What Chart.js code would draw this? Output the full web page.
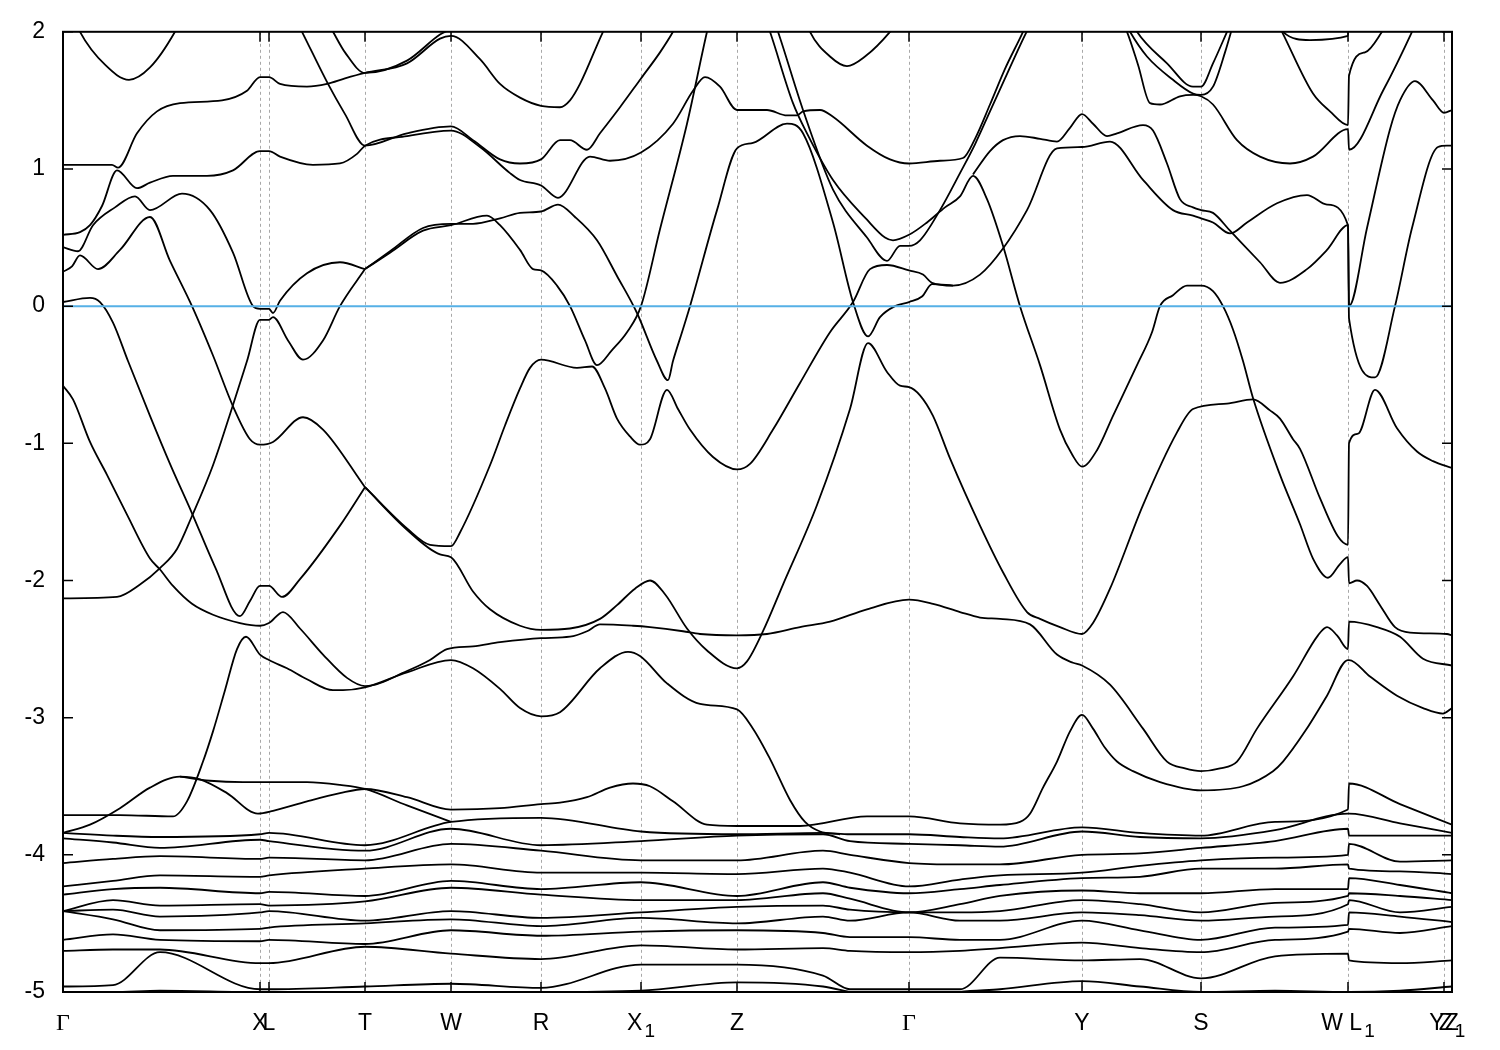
<!DOCTYPE html>
<html>
<head>
<meta charset="utf-8">
<title>Band structure</title>
<script src="https://cdn.jsdelivr.net/npm/chart.js@4.4.0/dist/chart.umd.min.js"></script>
<style>
  html, body { margin: 0; padding: 0; background: #fff; }
</style>
</head>
<body>
<canvas id="bands" width="1500" height="1050"></canvas>
<script>
// k-path: positions of the high-symmetry points (path distance, arbitrary units)
const kPoints = [0, 197, 206, 302, 388, 478, 578, 674, 846, 1019, 1138, 1285, 1381, 1389];
// "_1" marks a subscript
const kLabels = ['Γ', 'X', 'L', 'T', 'W', 'R', 'X_1', 'Z', 'Γ', 'Y', 'S', 'W L_1', 'YZ', 'Z_1'];
const yTicks = [2, 1, 0, -1, -2, -3, -4, -5];
const fermi = 0;

// bands above -3.5 eV, each as [k, E] pairs
const b01 = [[0,2.3],[17,2.0],[42,1.76],[66,1.65],[87,1.74],[112,2.0],[122,2.15]];
const b02 = [[0,1.03],[49,1.03],[55,1.01],[74,1.26],[94,1.42],[117,1.48],[159,1.50],[184,1.57],[197,1.67],[206,1.67],[217,1.62],[244,1.60],[264,1.62],[282,1.66],[302,1.70],[344,1.77],[377,1.95],[388,1.97],[417,1.80],[437,1.62],[457,1.52],[478,1.46],[497,1.45],[507,1.50],[517,1.62],[540,2.0],[547,2.1]];
const b03 = [[232,2.1],[239,2.0],[265,1.62],[282,1.40],[302,1.17],[344,1.26],[388,1.31],[410,1.21],[437,1.07],[457,1.04],[478,1.07],[497,1.21],[507,1.21],[524,1.14],[537,1.26],[557,1.45],[578,1.66],[597,1.85],[610,2.0],[617,2.1]];
const b04 = [[262,2.1],[270,2.0],[282,1.85],[302,1.70],[344,1.79],[377,1.98],[388,2.02],[407,2.1]];
const b05 = [[0,0.52],[17,0.54],[27,0.59],[39,0.73],[54,0.99],[74,0.86],[87,0.90],[110,0.95],[144,0.95],[170,0.99],[197,1.13],[206,1.13],[217,1.09],[250,1.03],[277,1.04],[294,1.11],[302,1.17],[344,1.24],[388,1.28],[417,1.16],[447,0.97],[457,0.92],[478,0.88],[495,0.79],[527,1.09],[547,1.06],[578,1.12],[610,1.33],[630,1.57],[642,1.67],[657,1.60],[674,1.43],[704,1.43],[724,1.39],[734,1.39],[740,1.42],[757,1.43],[770,1.38],[804,1.17],[827,1.07],[846,1.04],[877,1.06],[900,1.08],[912,1.22],[927,1.47],[942,1.73],[960,2.0],[966,2.1]];
const b06 = [[697,2.2],[707,2.0],[730,1.48],[744,1.26],[770,0.92],[804,0.63],[822,0.50],[830,0.48],[846,0.52],[864,0.61],[882,0.72],[897,0.80],[910,0.95],[924,0.78],[940,0.44],[957,0.0],[977,-0.43],[997,-0.90],[1009,-1.08],[1019,-1.17],[1034,-1.05],[1050,-0.80],[1074,-0.43],[1089,-0.19],[1097,0.0],[1110,0.08],[1124,0.15],[1138,0.15],[1150,0.11],[1160,0.0],[1170,-0.17],[1180,-0.40],[1190,-0.67],[1217,-1.23],[1237,-1.59],[1250,-1.84],[1265,-1.98],[1277,-1.88],[1285,-1.83],[1286,-2.02],[1294,-2.0],[1304,-2.04],[1317,-2.18],[1332,-2.34],[1347,-2.38],[1384,-2.39],[1389,-2.40]];
const b07 = [[705,2.2],[715,2.0],[740,1.43],[770,0.85],[804,0.50],[824,0.33],[837,0.44],[846,0.44],[857,0.48],[877,0.70],[897,0.97],[912,1.18],[927,1.42],[942,1.66],[957,1.90],[967,2.05],[972,2.12]];
const b08 = [[302,-1.32],[344,-1.63],[377,-1.81],[388,-1.83],[410,-2.08],[427,-2.21],[457,-2.33],[478,-2.36],[507,-2.35],[537,-2.28],[554,-2.18],[572,-2.06],[587,-2.0],[602,-2.1],[624,-2.35],[644,-2.51],[674,-2.64],[684,-2.59],[700,-2.37],[720,-2.03],[754,-1.45],[787,-0.75],[805,-0.27],[824,-0.48],[837,-0.58],[846,-0.59],[857,-0.65],[870,-0.80],[887,-1.11],[917,-1.60],[940,-1.94],[964,-2.23],[977,-2.28],[997,-2.34],[1019,-2.39],[1030,-2.31],[1047,-2.06],[1080,-1.45],[1114,-0.92],[1130,-0.75],[1164,-0.71],[1190,-0.68],[1207,-0.76],[1217,-0.82],[1230,-0.97],[1237,-1.04],[1257,-1.40],[1275,-1.68],[1285,-1.74],[1286,-1.0],[1295,-0.93],[1312,-0.61],[1334,-0.89],[1354,-1.06],[1370,-1.13],[1389,-1.18]];
const b10 = [[302,-1.32],[344,-1.62],[367,-1.74],[388,-1.75],[397,-1.65],[427,-1.16],[442,-0.87],[457,-0.60],[467,-0.45],[478,-0.39],[514,-0.45],[529,-0.44],[542,-0.60],[554,-0.82],[567,-0.95],[577,-1.01],[587,-0.97],[604,-0.61],[615,-0.75],[627,-0.90],[650,-1.10],[674,-1.19],[687,-1.15],[710,-0.90],[737,-0.56],[767,-0.19],[790,0.03],[807,0.27],[824,0.30],[846,0.26],[860,0.23],[869,0.17],[890,0.15],[917,0.23],[940,0.42],[964,0.70],[994,1.15],[1019,1.16],[1047,1.20],[1080,0.92],[1110,0.70],[1130,0.66],[1138,0.64],[1150,0.61],[1167,0.53],[1184,0.61],[1214,0.75],[1244,0.81],[1264,0.74],[1285,0.59],[1286,0.0],[1304,0.57],[1327,1.29],[1337,1.50],[1352,1.64],[1370,1.50],[1381,1.41],[1389,1.43]];
const b12 = [[302,0.27],[327,0.39],[360,0.55],[388,0.59],[424,0.66],[437,0.59],[457,0.41],[470,0.27],[478,0.26],[494,0.15],[507,0.0],[522,-0.25],[534,-0.43],[549,-0.32],[564,-0.19],[578,0.0],[597,0.56],[624,1.33],[644,2.0],[649,2.15]];
const b13 = [[302,0.27],[327,0.40],[360,0.57],[388,0.60],[410,0.60],[437,0.64],[457,0.68],[478,0.69],[495,0.74],[512,0.65],[534,0.48],[554,0.22],[574,-0.05],[594,-0.40],[605,-0.54],[610,-0.40],[619,-0.19],[627,0.0],[654,0.70],[674,1.15],[690,1.19],[724,1.33],[740,1.26],[770,0.61],[790,0.03],[805,-0.22],[817,-0.08],[832,0.0],[846,0.03],[859,0.07],[869,0.16],[890,0.15]];
const b14 = [[0,0.43],[15,0.40],[30,0.59],[52,0.72],[72,0.80],[87,0.70],[119,0.82],[147,0.70],[170,0.39],[190,0.0],[197,-0.02],[206,-0.02],[210,-0.05],[217,0.04],[244,0.24],[277,0.32],[302,0.27]];
const b15 = [[0,0.25],[9,0.29],[17,0.37],[35,0.27],[57,0.41],[87,0.65],[107,0.33],[129,0.0],[150,-0.36],[170,-0.73],[187,-0.97],[197,-1.01],[210,-0.99],[240,-0.81],[260,-0.90],[302,-1.32]];
const b16 = [[0,0.03],[27,0.06],[37,0.03],[50,-0.12],[65,-0.40],[87,-0.80],[107,-1.15],[129,-1.51],[152,-1.90],[177,-2.26],[187,-2.15],[197,-2.04],[206,-2.04],[219,-2.12],[237,-1.99],[277,-1.60],[302,-1.32]];
const b17 = [[0,-2.13],[54,-2.12],[77,-2.03],[97,-1.91],[114,-1.77],[129,-1.53],[150,-1.16],[170,-0.72],[184,-0.40],[197,-0.10],[206,-0.10],[210,-0.08],[225,-0.25],[240,-0.39],[260,-0.25],[277,0.0],[302,0.27]];
const b18 = [[0,-0.58],[10,-0.68],[27,-0.99],[44,-1.23],[64,-1.52],[87,-1.84],[97,-1.92],[110,-2.04],[129,-2.17],[150,-2.25],[177,-2.31],[197,-2.33],[206,-2.31],[220,-2.23],[237,-2.35],[260,-2.54],[284,-2.71],[302,-2.77],[344,-2.66],[367,-2.58],[384,-2.50],[410,-2.48],[437,-2.45],[478,-2.42],[507,-2.41],[524,-2.37],[537,-2.32],[570,-2.33],[587,-2.34],[620,-2.37],[637,-2.39],[674,-2.40],[704,-2.39],[737,-2.34],[767,-2.30],[804,-2.21],[846,-2.14],[870,-2.17],[897,-2.23],[917,-2.27],[937,-2.28],[967,-2.32],[994,-2.54],[1010,-2.60],[1019,-2.62],[1047,-2.76],[1080,-3.08],[1104,-3.32],[1122,-3.37],[1138,-3.39],[1157,-3.37],[1174,-3.32],[1194,-3.08],[1230,-2.70],[1255,-2.40],[1264,-2.34],[1274,-2.40],[1285,-2.50],[1286,-2.30],[1314,-2.34],[1337,-2.41],[1360,-2.57],[1389,-2.62]];
const b19 = [[0,-3.71],[57,-3.71],[110,-3.72],[124,-3.61],[140,-3.32],[150,-3.10],[162,-2.80],[174,-2.50],[183,-2.41],[197,-2.54],[206,-2.58],[224,-2.64],[244,-2.72],[270,-2.80],[280,-2.80],[302,-2.78],[344,-2.67],[388,-2.58],[410,-2.64],[437,-2.79],[457,-2.93],[478,-2.99],[497,-2.96],[537,-2.64],[565,-2.52],[577,-2.55],[604,-2.75],[637,-2.90],[674,-2.94],[690,-3.08],[707,-3.30],[727,-3.60],[742,-3.76],[757,-3.83],[777,-3.85]];
const b20 = [[0,-3.84],[27,-3.78],[57,-3.66],[87,-3.51],[117,-3.43],[137,-3.45],[164,-3.55],[195,-3.70],[210,-3.68],[244,-3.61],[277,-3.55],[302,-3.52],[344,-3.58],[388,-3.67],[437,-3.66],[478,-3.63],[497,-3.62],[524,-3.58],[547,-3.51],[570,-3.48],[587,-3.50],[610,-3.61],[644,-3.78],[674,-3.79],[737,-3.79],[804,-3.72],[846,-3.72],[897,-3.77],[937,-3.78],[957,-3.76],[967,-3.70],[980,-3.51],[994,-3.32],[1007,-3.10],[1019,-2.98],[1030,-3.08],[1042,-3.22],[1054,-3.32],[1070,-3.39],[1097,-3.47],[1138,-3.53],[1180,-3.50],[1210,-3.39],[1220,-3.32],[1242,-3.10],[1264,-2.84],[1285,-2.58],[1286,-2.58],[1307,-2.70],[1334,-2.84],[1360,-2.93],[1380,-2.97],[1389,-2.93]];
const b21 = [[117,-3.43],[147,-3.46],[180,-3.47],[244,-3.47],[277,-3.49],[302,-3.52],[344,-3.64],[388,-3.76]];
const b23 = [[910,0.96],[927,1.13],[940,1.21],[957,1.24],[977,1.22],[994,1.20],[1007,1.30],[1019,1.40],[1030,1.33],[1044,1.24],[1054,1.26],[1080,1.32],[1090,1.28],[1104,1.04],[1117,0.78],[1130,0.72],[1138,0.70],[1150,0.68],[1167,0.55],[1197,0.32],[1217,0.17],[1244,0.27],[1264,0.41],[1285,0.59],[1286,-0.09],[1312,-0.52],[1332,0.0],[1349,0.57],[1375,1.16],[1384,1.17],[1389,1.17]];
const b24 = [[1057,2.1],[1064,2.0],[1075,1.76],[1087,1.48],[1097,1.47],[1117,1.53],[1130,1.54],[1138,1.53],[1150,1.47],[1174,1.21],[1197,1.09],[1227,1.04],[1250,1.09],[1285,1.29],[1286,1.14],[1320,1.57],[1349,2.0],[1355,2.1]];
const b25 = [[1067,2.1],[1074,2.0],[1104,1.77],[1130,1.60],[1138,1.60],[1150,1.77],[1164,2.0],[1170,2.1]];
const b26 = [[1060,2.1],[1067,2.0],[1084,1.82],[1110,1.65],[1130,1.55],[1138,1.54],[1150,1.60],[1162,1.85],[1172,2.1]];
const b27 = [[1212,2.1],[1219,2.0],[1250,1.55],[1267,1.42],[1285,1.32],[1286,1.68],[1302,1.85],[1319,2.0],[1327,2.1]];
const b28 = [[1212,2.1],[1220,2.0],[1247,1.94],[1285,1.97],[1286,2.2]];
const b29 = [[737,2.2],[747,2.0],[767,1.82],[784,1.75],[802,1.82],[827,2.0],[837,2.1]];

// dense low-lying bands (-3.7 .. -5 eV): energies at sample k, in energy order per row
const lowerK = [0, 50, 97, 197, 206, 302, 388, 478, 578, 674, 760, 787, 846, 897, 937, 1019, 1077, 1138, 1212, 1285, 1286, 1337, 1389];
const lowerE = [
  [-3.84,-3.88,-4.06,-4.23,-4.29,-4.41,-4.41,-4.41,-4.62,-4.70,-4.96,-5.00],
  [-3.86,-3.91,-4.03,-4.19,-4.25,-4.33,-4.40,-4.47,-4.58,-4.69,-4.95,-5.00],
  [-3.87,-3.95,-4.01,-4.15,-4.24,-4.37,-4.45,-4.55,-4.62,-4.69,-4.71,-4.99],
  [-3.85,-3.89,-4.03,-4.16,-4.28,-4.36,-4.42,-4.54,-4.63,-4.79,-4.98,-5.00],
  [-3.84,-3.90,-4.02,-4.15,-4.27,-4.37,-4.41,-4.53,-4.62,-4.79,-4.98,-5.00],
  [-3.93,-3.97,-4.04,-4.10,-4.30,-4.34,-4.48,-4.50,-4.65,-4.67,-4.96,-5.00],
  [-3.76,-3.81,-3.92,-4.07,-4.19,-4.24,-4.41,-4.47,-4.55,-4.72,-4.94,-5.00],
  [-3.73,-3.93,-3.97,-4.13,-4.25,-4.29,-4.46,-4.52,-4.59,-4.76,-4.97,-5.00],
  [-3.83,-3.90,-4.04,-4.13,-4.20,-4.33,-4.42,-4.46,-4.56,-4.66,-4.80,-4.99],
  [-3.85,-3.86,-4.04,-4.14,-4.30,-4.33,-4.38,-4.50,-4.55,-4.69,-4.80,-4.93],
  [-3.84,-3.85,-3.97,-4.10,-4.20,-4.28,-4.37,-4.45,-4.57,-4.68,-4.88,-4.96],
  [-3.85,-3.90,-4.00,-4.13,-4.24,-4.32,-4.40,-4.48,-4.60,-4.70,-4.98,-5.00],
  [-3.85,-3.92,-4.06,-4.23,-4.28,-4.42,-4.42,-4.42,-4.60,-4.71,-4.98,-5.08],
  [-3.87,-3.93,-4.07,-4.18,-4.25,-4.36,-4.42,-4.48,-4.62,-4.70,-4.98,-5.00],
  [-3.88,-3.94,-4.07,-4.15,-4.22,-4.30,-4.41,-4.48,-4.62,-4.68,-4.75,-4.98],
  [-3.80,-3.83,-4.00,-4.13,-4.17,-4.26,-4.33,-4.42,-4.48,-4.64,-4.77,-4.92],
  [-3.84,-3.87,-3.99,-4.08,-4.16,-4.28,-4.36,-4.44,-4.55,-4.68,-4.76,-4.96],
  [-3.86,-3.88,-3.95,-4.04,-4.10,-4.28,-4.42,-4.48,-4.62,-4.71,-4.90,-5.00],
  [-3.76,-3.82,-3.90,-4.02,-4.10,-4.25,-4.35,-4.45,-4.53,-4.62,-4.74,-4.99],
  [-3.67,-3.70,-3.81,-4.00,-4.07,-4.25,-4.30,-4.36,-4.51,-4.56,-4.72,-5.00],
  [-3.48,-3.70,-3.86,-3.92,-4.10,-4.17,-4.28,-4.33,-4.42,-4.54,-4.77,-5.00],
  [-3.63,-3.77,-3.86,-4.05,-4.12,-4.22,-4.30,-4.42,-4.45,-4.57,-4.79,-4.99],
  [-3.78,-3.84,-3.86,-4.04,-4.14,-4.28,-4.33,-4.38,-4.49,-4.52,-4.77,-4.96]
];

const upperBands = [b01, b02, b03, b04, b05, b06, b07, b08, b10, b12, b13, b14, b15, b16, b17, b18, b19, b20, b21, b23, b24, b25, b26, b27, b28, b29];

const toXY = arr => arr.map(p => ({ x: p[0], y: p[1] }));

const datasets = [];
// Fermi level first so it is painted on top
datasets.push({
  data: [{ x: kPoints[0], y: fermi }, { x: kPoints[kPoints.length - 1], y: fermi }],
  borderColor: '#56b0e6', borderWidth: 2, cubicInterpolationMode: 'default', tension: 0
});
upperBands.forEach(b => datasets.push({ data: toXY(b) }));
for (let n = 0; n < lowerE[0].length; n++) {
  datasets.push({ data: lowerK.map((k, i) => ({ x: k, y: lowerE[i][n] })) });
}

// dotted k-point lines, inward ticks and frame
const framePlugin = {
  id: 'frame',
  beforeDatasetsDraw(chart) {
    const { ctx, chartArea: a, scales: { x } } = chart;
    ctx.save();
    ctx.strokeStyle = '#a8a8a8';
    ctx.lineWidth = 1;
    ctx.setLineDash([3, 3]);
    kPoints.slice(1, -1).forEach(k => {
      const px = Math.round(x.getPixelForValue(k)) + 0.5;
      ctx.beginPath();
      ctx.moveTo(px, a.top);
      ctx.lineTo(px, a.bottom);
      ctx.stroke();
    });
    ctx.restore();
  },
  afterDatasetsDraw(chart) {
    const { ctx, chartArea: a, scales: { x, y } } = chart;
    ctx.save();
    ctx.strokeStyle = '#000';
    ctx.lineWidth = 1.5;
    ctx.beginPath();
    yTicks.forEach(v => {
      const py = y.getPixelForValue(v);
      ctx.moveTo(a.left, py); ctx.lineTo(a.left + 10, py);
      ctx.moveTo(a.right, py); ctx.lineTo(a.right - 10, py);
    });
    kPoints.forEach(k => {
      const px = x.getPixelForValue(k);
      ctx.moveTo(px, a.bottom); ctx.lineTo(px, a.bottom - 10);
      ctx.moveTo(px, a.top); ctx.lineTo(px, a.top + 10);
    });
    ctx.stroke();
    ctx.lineWidth = 2;
    ctx.strokeRect(a.left, a.top, a.right - a.left, a.bottom - a.top);
    ctx.restore();
  }
};

// k-point names under the axis, with lowered subscripts
const labelPlugin = {
  id: 'klabels',
  afterDraw(chart) {
    const { ctx, chartArea: a, scales: { x } } = chart;
    ctx.save();
    ctx.fillStyle = '#000';
    ctx.textAlign = 'left';
    ctx.textBaseline = 'alphabetic';
    const subFont = '19px "Liberation Sans"';
    kPoints.forEach((k, i) => {
      const [main, sub = ''] = kLabels[i].split('_');
      const mainFont = main === 'Γ' ? '24px "Liberation Serif"' : '23px "Liberation Sans"';
      ctx.font = mainFont;
      const wm = ctx.measureText(main).width;
      ctx.font = subFont;
      const ws = sub ? ctx.measureText(sub).width + 2 : 0;
      const x0 = x.getPixelForValue(k) - (wm + ws) / 2;
      const base = a.bottom + 38;
      ctx.font = mainFont;
      ctx.fillText(main, x0, base);
      if (sub) {
        ctx.font = subFont;
        ctx.fillText(sub, x0 + wm + 2, base + 7);
      }
    });
    ctx.restore();
  }
};

new Chart(document.getElementById('bands'), {
  type: 'line',
  data: { datasets },
  options: {
    responsive: false,
    animation: false,
    devicePixelRatio: 1,
    parsing: false,
    layout: { padding: { top: 28, right: 48, left: 0, bottom: 0 } },
    elements: {
      point: { radius: 0 },
      line: { borderWidth: 1.8, borderColor: '#000', cubicInterpolationMode: 'monotone', fill: false }
    },
    plugins: { legend: { display: false }, tooltip: { enabled: false } },
    scales: {
      x: {
        type: 'linear', min: 0, max: 1389,
        grid: { display: false, drawTicks: false },
        border: { display: false },
        afterBuildTicks: s => { s.ticks = kPoints.map(v => ({ value: v })); },
        afterFit: s => { s.height = 58; },
        ticks: { display: false }
      },
      y: {
        min: -5, max: 2,
        grid: { display: false, drawTicks: false },
        border: { display: false },
        afterBuildTicks: s => { s.ticks = yTicks.map(v => ({ value: v })); },
        afterFit: s => { s.width = 63; },
        ticks: {
          padding: 18, color: '#000',
          font: { family: 'Liberation Sans', size: 23 },
          callback: v => String(v)
        }
      }
    }
  },
  plugins: [framePlugin, labelPlugin]
});
</script>
</body>
</html>
